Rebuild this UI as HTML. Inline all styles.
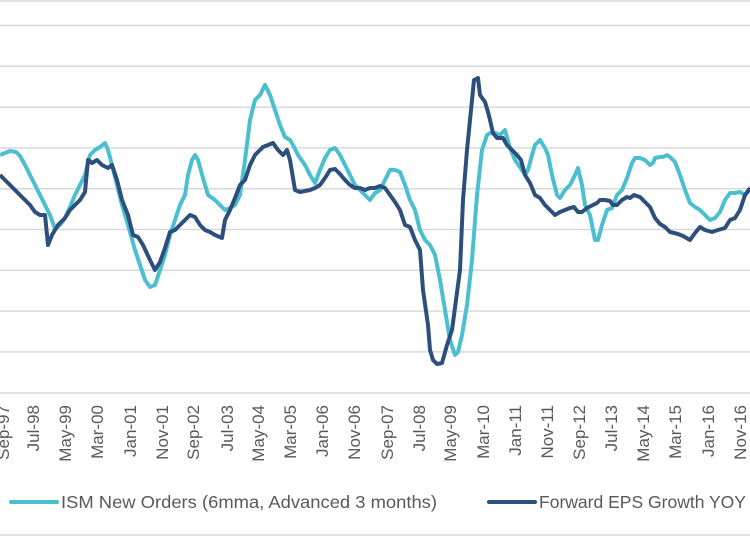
<!DOCTYPE html>
<html><head><meta charset="utf-8"><style>
html,body{margin:0;padding:0;background:#fff;}
svg{display:block;}
text{font-family:"Liberation Sans",sans-serif;fill:#595959;}
</style></head><body>
<svg width="750" height="536" viewBox="0 0 750 536" xmlns="http://www.w3.org/2000/svg">
<g stroke="#d9d9d9" stroke-width="1.5">
<line x1="0" y1="1" x2="750" y2="1"/>
<line x1="0" y1="25.5" x2="750" y2="25.5"/>
<line x1="0" y1="66.3" x2="750" y2="66.3"/>
<line x1="0" y1="107.1" x2="750" y2="107.1"/>
<line x1="0" y1="147.9" x2="750" y2="147.9"/>
<line x1="0" y1="188.7" x2="750" y2="188.7"/>
<line x1="0" y1="229.5" x2="750" y2="229.5"/>
<line x1="0" y1="270.3" x2="750" y2="270.3"/>
<line x1="0" y1="311.1" x2="750" y2="311.1"/>
<line x1="0" y1="351.9" x2="750" y2="351.9"/>
<line x1="0" y1="393" x2="750" y2="393"/>
<line x1="0" y1="535" x2="750" y2="535"/>
</g>
<polyline fill="none" stroke="#4bbfcf" stroke-width="4" stroke-linejoin="round" points="0,155 5,153 10,151 16,152 20,156 25,165 30,175 35,185 45,205 50,215 55,229 60,225 65,218 70,207 75,195 80,185 85,175 90,155 95,150 100,147 105,143 108,150 112,165 117,185 122,205 128,225 135,250 140,265 145,280 150,287 155,285 160,270 165,255 170,235 175,220 180,205 185,195 188,175 192,160 195,155 198,160 203,178 208,195 215,200 220,205 225,210 230,208 235,205 240,195 245,160 250,120 255,100 260,95 265,85 270,95 275,110 280,125 285,137 290,140 293,145 298,155 305,165 310,175 315,183 320,170 325,158 330,150 335,148 340,155 345,165 350,175 355,185 365,195 370,200 375,193 380,190 385,180 390,170 395,170 400,172 405,185 410,200 415,210 420,230 425,240 430,245 435,255 440,280 445,310 450,340 455,355 458,352 462,335 467,305 472,260 477,195 482,150 487,135 490,133 495,133 500,135 505,130 510,148 515,160 520,167 525,175 528,170 532,155 535,145 540,140 545,148 548,155 552,175 557,195 560,198 565,190 570,185 575,175 578,168 582,185 585,205 590,215 595,240 598,240 602,225 607,210 612,208 617,195 622,190 627,178 632,163 635,158 640,158 645,160 650,165 653,163 655,158 660,157 663,157 667,155 670,157 675,162 680,175 685,190 690,203 695,207 700,210 705,215 710,220 715,218 720,212 725,200 730,193 735,193 740,192 745,195 750,190"/>
<polyline fill="none" stroke="#2c4f7c" stroke-width="4" stroke-linejoin="round" points="0,175 5,180 10,185 15,190 20,195 25,200 30,205 35,212 40,215 45,215 48,245 52,235 58,225 65,218 70,210 75,205 80,200 85,192 88,160 92,163 97,160 102,165 108,168 112,165 117,180 122,200 128,215 133,235 138,237 143,245 150,260 155,270 160,262 165,248 170,232 175,230 180,225 185,220 190,215 195,217 200,225 205,230 210,232 215,235 222,238 225,220 230,210 235,198 240,185 245,180 250,165 255,155 260,150 263,147 268,145 273,143 278,150 283,155 287,150 290,160 295,190 300,192 305,191 310,190 315,188 320,185 325,178 330,170 335,169 340,174 345,180 350,185 355,188 360,188 365,190 370,188 375,188 380,186 385,188 390,195 395,202 400,210 405,225 410,227 415,240 420,250 423,290 428,325 430,350 433,360 437,364 442,363 447,345 452,330 460,270 463,200 467,150 470,120 474,80 478,78 480,95 485,102 488,112 490,120 493,133 497,138 500,138 503,138 507,145 512,150 517,155 521,160 525,175 530,183 535,195 540,198 545,205 550,210 555,215 560,212 565,210 570,208 574,207 578,212 582,212 587,208 593,205 597,203 600,200 605,200 610,201 613,205 617,205 622,200 627,197 630,198 634,195 640,197 645,202 650,207 655,218 660,224 665,227 670,232 678,234 683,236 690,240 695,233 700,227 705,230 712,232 718,230 725,228 730,220 735,218 740,210 745,195 750,188"/>
<g font-size="17" text-anchor="end">
<text transform="translate(9,405) rotate(-90)">Sep-97</text>
<text transform="translate(39,405) rotate(-90)">Jul-98</text>
<text transform="translate(71,405) rotate(-90)">May-99</text>
<text transform="translate(103,405) rotate(-90)">Mar-00</text>
<text transform="translate(136,405) rotate(-90)">Jan-01</text>
<text transform="translate(168,405) rotate(-90)">Nov-01</text>
<text transform="translate(199,405) rotate(-90)">Sep-02</text>
<text transform="translate(233,405) rotate(-90)">Jul-03</text>
<text transform="translate(264,405) rotate(-90)">May-04</text>
<text transform="translate(296,405) rotate(-90)">Mar-05</text>
<text transform="translate(328,405) rotate(-90)">Jan-06</text>
<text transform="translate(360,405) rotate(-90)">Nov-06</text>
<text transform="translate(393,405) rotate(-90)">Sep-07</text>
<text transform="translate(425,405) rotate(-90)">Jul-08</text>
<text transform="translate(456,405) rotate(-90)">May-09</text>
<text transform="translate(489,405) rotate(-90)">Mar-10</text>
<text transform="translate(521,405) rotate(-90)">Jan-11</text>
<text transform="translate(553,405) rotate(-90)">Nov-11</text>
<text transform="translate(585,405) rotate(-90)">Sep-12</text>
<text transform="translate(617,405) rotate(-90)">Jul-13</text>
<text transform="translate(649,405) rotate(-90)">May-14</text>
<text transform="translate(681,405) rotate(-90)">Mar-15</text>
<text transform="translate(714,405) rotate(-90)">Jan-16</text>
<text transform="translate(746,405) rotate(-90)">Nov-16</text>
</g>
<line x1="11" y1="502" x2="57" y2="502" stroke="#4bbfcf" stroke-width="4" stroke-linecap="round"/>
<text x="61" y="508" font-size="17.5" textLength="376" lengthAdjust="spacingAndGlyphs">ISM New Orders (6mma, Advanced 3 months)</text>
<line x1="489" y1="502" x2="535" y2="502" stroke="#2c4f7c" stroke-width="4" stroke-linecap="round"/>
<text x="539" y="508" font-size="17.5" textLength="207" lengthAdjust="spacingAndGlyphs">Forward EPS Growth YOY</text>
</svg>
</body></html>
